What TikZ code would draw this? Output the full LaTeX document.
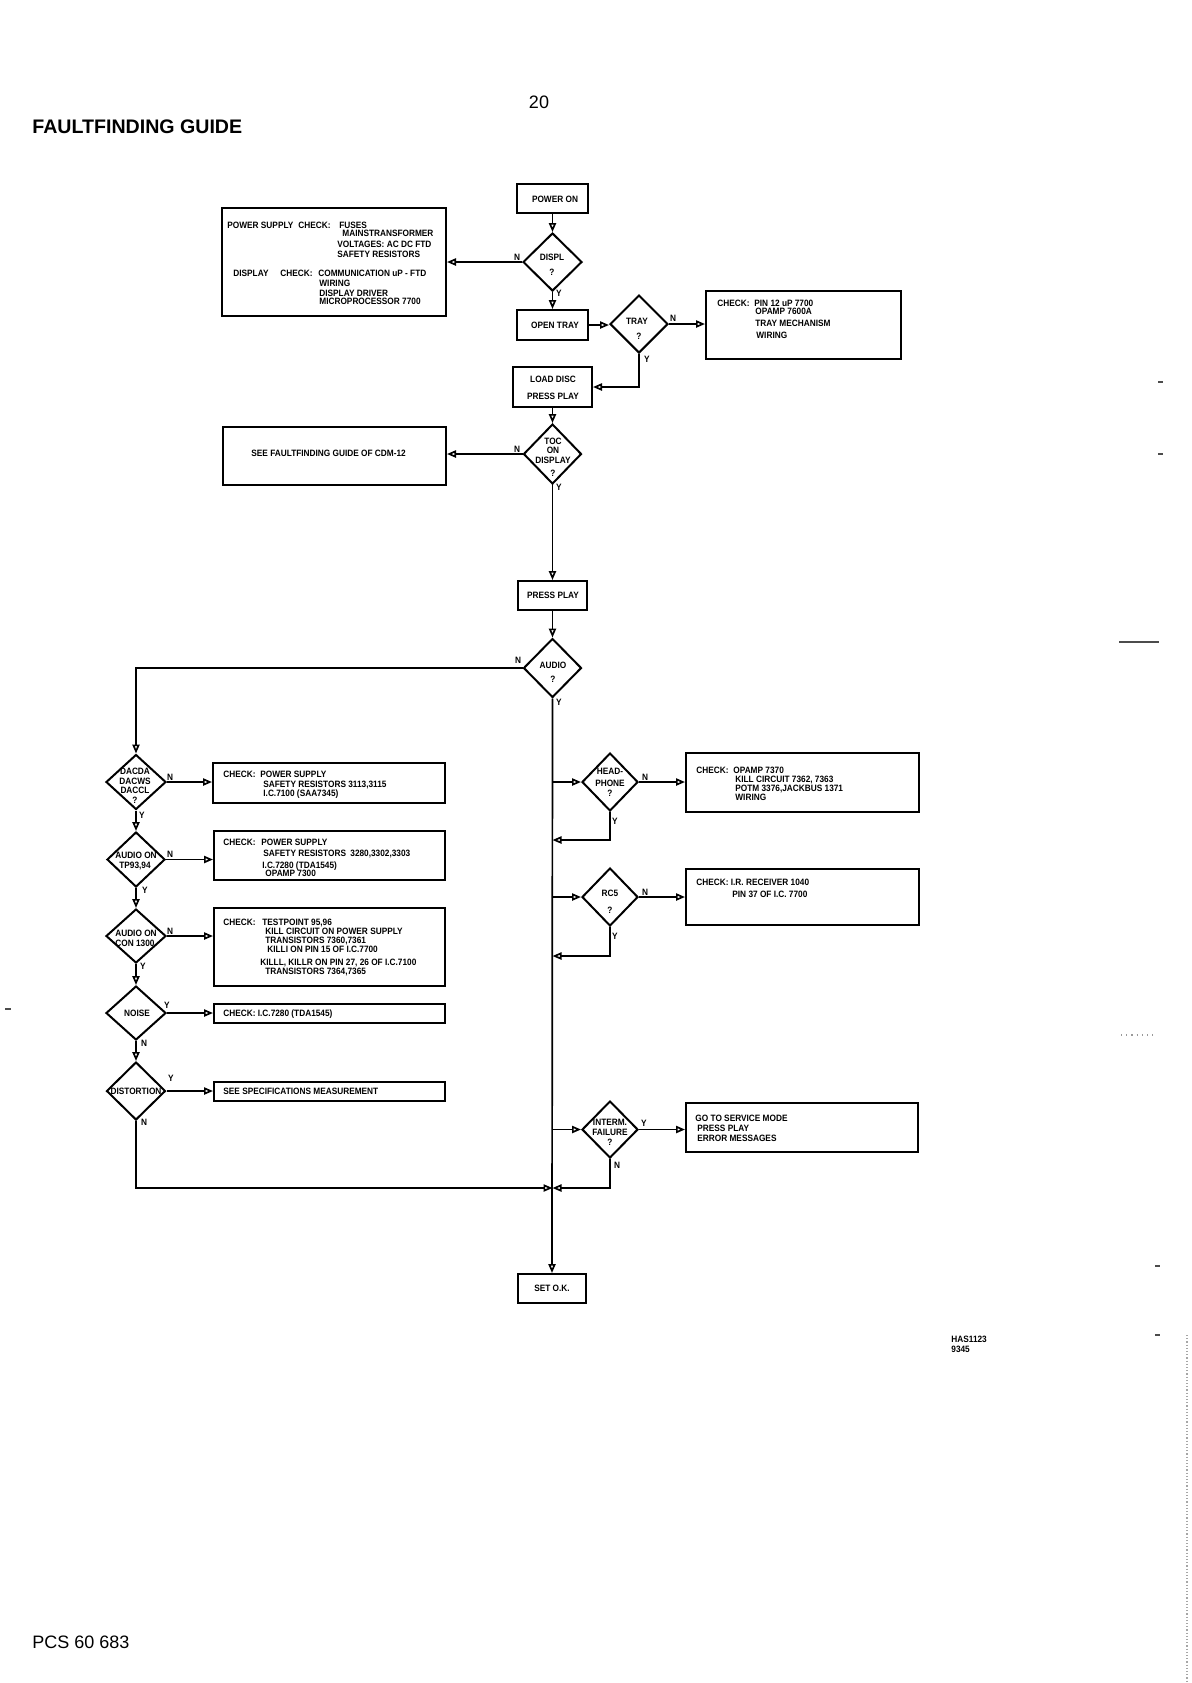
\documentclass[tikz,border=0pt]{standalone}
\usepackage{fontspec}
\setmainfont{Liberation Sans}
\newfontfamily\nar[FakeStretch=0.9]{Liberation Sans}
\usetikzlibrary{shapes.geometric,arrows.meta,fit}
\tikzset{
  bx/.style={draw, line width=1pt, inner sep=0pt, fit={#1}},
  dm/.style={draw, diamond, line width=1pt, inner sep=0pt},
  ln/.style={line width=0.85pt},
  ar/.style={ln, -{Triangle[open,length=4.5pt,width=3.6pt]}},
  tl/.style={font=\nar\bfseries\fontsize{4.6}{5.2}\selectfont, inner sep=0pt, text height=3.3pt, text depth=0pt, anchor=west},
  dt/.style={tl, anchor=center},
  scanmark/.style={line width=0.6pt, black!70},
}
\newcommand\tl[4]{\node[tl] (#1) at (#2,#3) {#4};}
\newcommand\dt[4]{\node[dt] (#1) at (#2,#3) {#4};}
\begin{document}
\begin{tikzpicture}[x=0.5pt,y=-0.5pt]
\useasboundingbox (0,0) rectangle (1191,1683);
\fill[white] (0,0) rectangle (1191,1683);

% page texts
\node[anchor=west, inner sep=0pt, font=\bfseries\fontsize{9.8}{11}\selectfont] (title) at (32,127) {FAULTFINDING GUIDE};
\node[inner sep=0pt, font=\fontsize{9}{10}\selectfont] (pageno) at (539,102) {20};
\node[anchor=west, inner sep=0pt, font=\fontsize{9}{10}\selectfont] (pcs) at (32,1642) {PCS 60 683};
\tl{has1}{951}{1339}{HAS1123}
\tl{has2}{951}{1349}{9345}

% ---------- main column boxes ----------
\node[bx={(517,184)(588,213)}] (pon) {};
\dt{ponT}{555}{199}{POWER ON}
\node[dm, minimum width=29.5pt, minimum height=29pt] (displ) at (552.5,262) {};
\dt{displT}{552}{257}{DISPL}
\dt{displQ}{552}{272}{?}
\node[bx={(517,310)(588,340)}] (otray) {};
\dt{otrayT}{555}{325}{OPEN TRAY}
\node[dm, minimum width=29pt, minimum height=29pt] (tray) at (639,324) {};
\dt{trayT}{637}{321}{TRAY}
\dt{trayQ}{639}{336}{?}
\node[bx={(513,367)(592,407)}] (load) {};
\dt{loadT}{553}{379}{LOAD DISC}
\dt{loadT2}{553}{396}{PRESS PLAY}
\node[dm, minimum width=29pt, minimum height=30pt] (toc) at (552.5,454) {};
\dt{tocT1}{553}{441}{TOC}
\dt{tocT2}{553}{450}{ON}
\dt{tocT3}{553}{460}{DISPLAY}
\dt{tocT4}{553}{473}{?}
\node[bx={(518,581)(587,610)}] (pplay) {};
\dt{pplayT}{553}{595}{PRESS PLAY}
\node[dm, minimum width=29pt, minimum height=29.5pt] (audio) at (552.5,668) {};
\dt{audioT}{553}{665}{AUDIO}
\dt{audioQ}{553}{679}{?}
\node[bx={(518,1274)(586,1303)}] (setok) {};
\dt{setokT}{552}{1288}{SET O.K.}

% ---------- upper side boxes ----------
\node[bx={(222,208)(446,316)}] (psbox) {};
\tl{ps1}{227}{225}{POWER SUPPLY}
\tl{ps2}{298}{225}{CHECK:}
\tl{ps3}{339}{225}{FUSES}
\tl{ps4}{342}{233}{MAINSTRANSFORMER}
\tl{ps5}{337}{244}{VOLTAGES: AC DC FTD}
\tl{ps6}{337}{254}{SAFETY RESISTORS}
\tl{ps7}{233}{273}{DISPLAY}
\tl{ps8}{280}{273}{CHECK:}
\tl{ps9}{318}{273}{COMMUNICATION uP - FTD}
\tl{ps10}{319}{283}{WIRING}
\tl{ps11}{319}{293}{DISPLAY DRIVER}
\tl{ps12}{319}{301}{MICROPROCESSOR 7700}

\node[bx={(706,291)(901,359)}] (trbox) {};
\tl{tr1}{717}{303}{CHECK:}
\tl{tr2}{754}{303}{PIN 12 uP 7700}
\tl{tr3}{755}{311}{OPAMP 7600A}
\tl{tr4}{755}{323}{TRAY MECHANISM}
\tl{tr5}{756}{335}{WIRING}

\node[bx={(223,427)(446,485)}] (seebox) {};
\tl{see1}{251}{453}{SEE FAULTFINDING GUIDE OF CDM-12}

% ---------- left column ----------
\node[dm, minimum width=30pt, minimum height=27.5pt] (dac) at (136,782) {};
\dt{dac1}{135}{771}{DACDA}
\dt{dac2}{135}{781}{DACWS}
\dt{dac3}{135}{790}{DACCL}
\dt{dac4}{135}{800}{?}
\node[bx={(213,763)(445,803)}] (b1) {};
\tl{b1a}{223}{774}{CHECK:}
\tl{b1b}{260}{774}{POWER SUPPLY}
\tl{b1c}{263}{784}{SAFETY RESISTORS 3113,3115}
\tl{b1d}{263}{793}{I.C.7100 (SAA7345)}

\node[dm, minimum width=29pt, minimum height=27.5pt] (aotp) at (136,859.5) {};
\dt{aotp1}{136}{855}{AUDIO ON}
\dt{aotp2}{135}{865}{TP93,94}
\node[bx={(214,831)(445,880)}] (b2) {};
\tl{b2a}{223}{842}{CHECK:}
\tl{b2b}{261}{842}{POWER SUPPLY}
\tl{b2c}{263}{853}{SAFETY RESISTORS}
\tl{b2d}{350}{853}{3280,3302,3303}
\tl{b2e}{262}{865}{I.C.7280 (TDA1545)}
\tl{b2f}{265}{873}{OPAMP 7300}

\node[dm, minimum width=30pt, minimum height=27pt] (aocon) at (136,936) {};
\dt{aocon1}{136}{933}{AUDIO ON}
\dt{aocon2}{135}{943}{CON 1300}
\node[bx={(214,908)(445,986)}] (b3) {};
\tl{b3a}{223}{922}{CHECK:}
\tl{b3b}{262}{922}{TESTPOINT 95,96}
\tl{b3c}{265}{931}{KILL CIRCUIT ON POWER SUPPLY}
\tl{b3d}{265}{940.5}{TRANSISTORS 7360,7361}
\tl{b3e}{267}{949}{KILLI ON PIN 15 OF I.C.7700}
\tl{b3f}{260}{962}{KILLL, KILLR ON PIN 27, 26 OF I.C.7100}
\tl{b3g}{265}{971}{TRANSISTORS 7364,7365}

\node[dm, minimum width=30pt, minimum height=27pt] (noise) at (136,1013) {};
\dt{noiseT}{137}{1013}{NOISE}
\node[bx={(214,1004)(445,1023)}] (b4) {};
\tl{b4a}{223}{1013}{CHECK: I.C.7280 (TDA1545)}

\node[dm, minimum width=29.5pt, minimum height=29pt] (dist) at (136,1091) {};
\dt{distT}{136}{1091}{DISTORTION}
\node[bx={(214,1082)(445,1101)}] (b5) {};
\tl{b5a}{223}{1091}{SEE SPECIFICATIONS MEASUREMENT}

% ---------- right column ----------
\node[dm, minimum width=28pt, minimum height=29pt] (hp) at (610,782) {};
\dt{hp1}{610}{771}{HEAD-}
\dt{hp2}{610}{783}{PHONE}
\dt{hp3}{610}{793}{?}
\node[bx={(686,753)(919,812)}] (hpbox) {};
\tl{hpb1}{696}{770}{CHECK:}
\tl{hpb2}{733}{770}{OPAMP 7370}
\tl{hpb3}{735}{779}{KILL CIRCUIT 7362, 7363}
\tl{hpb4}{735}{788}{POTM 3376,JACKBUS 1371}
\tl{hpb5}{735}{797}{WIRING}

\node[dm, minimum width=28pt, minimum height=29pt] (rc) at (610,897) {};
\dt{rc1}{610}{893}{RC5}
\dt{rc2}{610}{910}{?}
\node[bx={(686,869)(919,925)}] (rcbox) {};
\tl{rcb1}{696}{882}{CHECK: I.R. RECEIVER 1040}
\tl{rcb2}{732}{894}{PIN 37 OF I.C. 7700}

\node[dm, minimum width=28pt, minimum height=28.5pt] (ifl) at (610,1129.5) {};
\dt{if1}{610}{1122}{INTERM.}
\dt{if2}{610}{1132}{FAILURE}
\dt{if3}{610}{1142}{?}
\node[bx={(686,1103)(918,1152)}] (ifbox) {};
\tl{ifb1}{695}{1118}{GO TO SERVICE MODE}
\tl{ifb2}{697}{1128}{PRESS PLAY}
\tl{ifb3}{697}{1138}{ERROR MESSAGES}

% ---------- Y / N labels ----------
\dt{l1}{517}{257}{N}  \dt{l2}{559}{293}{Y}
\dt{l3}{673}{318}{N}  \dt{l4}{647}{359}{Y}
\dt{l5}{517}{449}{N}  \dt{l6}{559}{487}{Y}
\dt{l7}{518}{660}{N}  \dt{l8}{559}{702}{Y}
\dt{l9}{170}{777}{N}  \dt{l10}{142}{815}{Y}
\dt{l11}{170}{854}{N} \dt{l12}{145}{890}{Y}
\dt{l13}{170}{931}{N} \dt{l14}{143}{966}{Y}
\dt{l15}{167}{1005}{Y} \dt{l16}{144}{1043}{N}
\dt{l17}{171}{1078}{Y} \dt{l18}{144}{1122}{N}
\dt{l19}{645}{777}{N} \dt{l20}{615}{821}{Y}
\dt{l21}{645}{892}{N} \dt{l22}{615}{936}{Y}
\dt{l23}{644}{1123}{Y} \dt{l24}{617}{1165}{N}

% ---------- junction coordinates ----------
\coordinate (jhp) at (552.5,782);
\coordinate (jhpr) at (552.5,840);
\coordinate (jrc) at (552.5,897);
\coordinate (jrcr) at (552.5,956);
\coordinate (jif) at (552.5,1129.5);
\coordinate (jbot) at (552.5,1188);

% ---------- connectors ----------
\draw[ar] (pon.south) -- (displ.north);
\draw[ar] (displ.west) -- (displ.west -| psbox.east);
\draw[ar] (displ.south) -- (otray.north);
\draw[ar] (otray.east) -- (otray.east -| tray.west);
\draw[ar] (tray.east) -- (tray.east -| trbox.west);
\draw[ar] (tray.south) |- (load.east);
\draw[ar] (load.south) -- (toc.north);
\draw[ar] (toc.west) -- (toc.west -| seebox.east);
\draw[ar] (toc.south) -- (pplay.north);
\draw[ar] (pplay.south) -- (audio.north);
\draw[ar] (audio.south) -- (setok.north);

\draw[ar] (audio.west) -| (dac.north);
\draw[ar] (dac.east) -- (dac.east -| b1.west);
\draw[ar] (dac.south) -- (aotp.north);
\draw[ar] (aotp.east) -- (aotp.east -| b2.west);
\draw[ar] (aotp.south) -- (aocon.north);
\draw[ar] (aocon.east) -- (aocon.east -| b3.west);
\draw[ar] (aocon.south) -- (noise.north);
\draw[ar] (noise.east) -- (noise.east -| b4.west);
\draw[ar] (noise.south) -- (dist.north);
\draw[ar] (dist.east) -- (dist.east -| b5.west);
\draw[ar] (dist.south) |- (jbot);

\draw[ar] (jhp) -- (hp.west);
\draw[ar] (hp.east) -- (hp.east -| hpbox.west);
\draw[ar] (hp.south) |- (jhpr);
\draw[ar] (jrc) -- (rc.west);
\draw[ar] (rc.east) -- (rc.east -| rcbox.west);
\draw[ar] (rc.south) |- (jrcr);
\draw[ar] (jif) -- (ifl.west);
\draw[ar] (ifl.east) -- (ifl.east -| ifbox.west);
\draw[ar] (ifl.south) |- (jbot);

% ---------- scan marks ----------
\draw[scanmark] (1119,642) -- (1159,642);
\draw[scanmark] (1158,382) -- (1163,382);
\draw[scanmark] (1158,454) -- (1163,454);
\draw[scanmark] (1155,1266) -- (1160,1266);
\draw[scanmark] (1155,1335) -- (1160,1335);
\draw[scanmark] (5,1009) -- (11,1009);
\draw[scanmark, black!40, dotted] (1121,1035) -- (1153,1035);
\draw[scanmark, black!35, densely dotted] (1187,1335) -- (1187,1683);
\end{tikzpicture}
\end{document}
